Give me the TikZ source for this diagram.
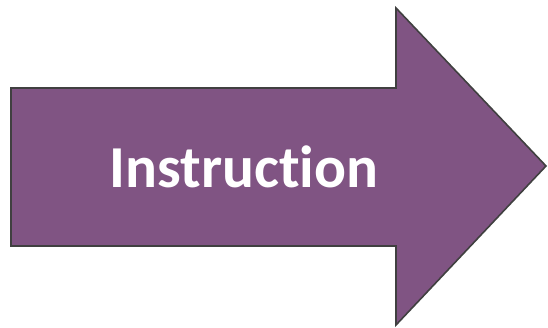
\documentclass[tikz,border=0pt]{standalone}
\usepackage{fontspec}
\setsansfont{Carlito}[Ligatures=NoCommon]
\usetikzlibrary{positioning}
\definecolor{arrowpurple}{RGB}{128,84,131}
\definecolor{edgegray}{RGB}{64,64,64}

\begin{document}
\begin{tikzpicture}[
		x=1pt, y=-1pt, font=\sffamily,
		% Define styles
		bigarrow/.style={fill=arrowpurple, draw=edgegray, line width=1.6pt, line join=miter},
		label/.style={text=white, font=\sffamily\bfseries\fontsize{59.5}{62}\selectfont, inner sep=0pt}
		]
		
		% 0. Frame
		\useasboundingbox (0,0) rectangle (548,328);
		
		% 1. The arrow
		\coordinate (tail top) at (11,88);
		\coordinate (neck top) at (396,88);
		\coordinate (head top) at (396,8);
		\coordinate (tip) at (546,166);
		\coordinate (head bottom) at (396,325);
		\coordinate (neck bottom) at (396,246);
		\coordinate (tail bottom) at (11,246);
		\draw[bigarrow] (tail top) -- (neck top) -- (head top) -- (tip)
			-- (head bottom) -- (neck bottom) -- (tail bottom) -- cycle;
		
		% 2. Label
		\node[label] (instr) at (244,167) {Instruction};
		
	\end{tikzpicture}
\end{document}
